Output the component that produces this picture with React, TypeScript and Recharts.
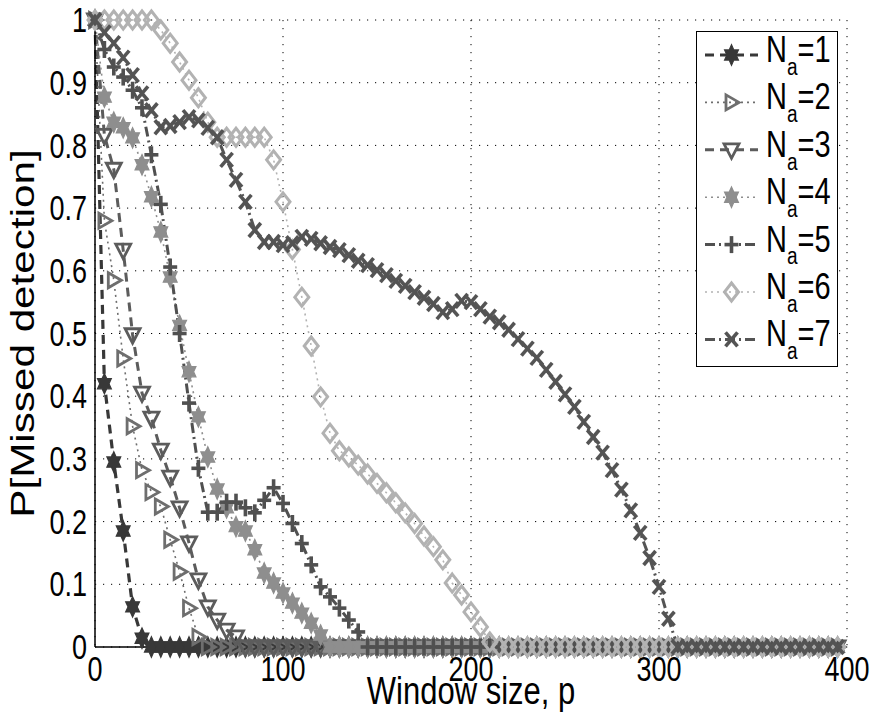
import React from 'react';
import { LineChart, Line, XAxis, YAxis, CartesianGrid, Legend } from 'recharts';

const windowSizes = [
  0, 5, 10, 15, 20, 25, 30, 35, 40, 45, 50, 55, 60, 65, 70, 75, 80, 85, 90, 95,
  100, 105, 110, 115, 120, 125, 130, 135, 140, 145, 150, 155, 160, 165, 170, 175, 180, 185, 190, 195,
  200, 205, 210, 215, 220, 225, 230, 235, 240, 245, 250, 255, 260, 265, 270, 275, 280, 285, 290, 295,
  300, 305, 310, 315, 320, 325, 330, 335, 340, 345, 350, 355, 360, 365, 370, 375, 380, 385, 390, 395,
];

const na1 = [
  1, 0.42, 0.295, 0.185, 0.064, 0.014,
  0, 0, 0, 0, 0, 0, 0, 0, 0, 0,
  0, 0, 0, 0, 0, 0, 0, 0, 0, 0,
  0, 0, 0, 0, 0, 0, 0, 0, 0, 0,
  0, 0, 0, 0, 0, 0, 0, 0, 0, 0,
  0, 0, 0, 0, 0, 0, 0, 0, 0, 0,
  0, 0, 0, 0, 0, 0, 0, 0, 0, 0,
  0, 0, 0, 0, 0, 0, 0, 0, 0, 0,
  0, 0, 0, 0,
];

const na2 = [
  1, 0.68, 0.585, 0.46, 0.352, 0.282, 0.247, 0.224, 0.171, 0.12, 0.062, 0.016,
  0, 0, 0, 0, 0, 0, 0, 0, 0, 0,
  0, 0, 0, 0, 0, 0, 0, 0, 0, 0,
  0, 0, 0, 0, 0, 0, 0, 0, 0, 0,
  0, 0, 0, 0, 0, 0, 0, 0, 0, 0,
  0, 0, 0, 0, 0, 0, 0, 0, 0, 0,
  0, 0, 0, 0, 0, 0, 0, 0, 0, 0,
  0, 0, 0, 0, 0, 0, 0, 0,
];

const na3 = [
  1, 0.816, 0.762, 0.633, 0.498, 0.405, 0.365, 0.314, 0.271, 0.222, 0.166, 0.107, 0.064, 0.043, 0.027, 0.016,
  0, 0, 0, 0, 0, 0, 0, 0, 0, 0,
  0, 0, 0, 0, 0, 0, 0, 0, 0, 0,
  0, 0, 0, 0, 0, 0, 0, 0, 0, 0,
  0, 0, 0, 0, 0, 0, 0, 0, 0, 0,
  0, 0, 0, 0, 0, 0, 0, 0, 0, 0,
  0, 0, 0, 0, 0, 0, 0, 0, 0, 0,
  0, 0, 0, 0,
];

const na4 = [
  1, 0.877, 0.837, 0.828, 0.812, 0.769, 0.718, 0.662, 0.59, 0.513,
  0.439, 0.367, 0.303, 0.252, 0.222, 0.192, 0.185, 0.155, 0.118, 0.102,
  0.086, 0.07, 0.054, 0.038, 0.019,
  0, 0, 0, 0, 0, 0, 0, 0, 0, 0,
  0, 0, 0, 0, 0, 0, 0, 0, 0, 0,
  0, 0, 0, 0, 0, 0, 0, 0, 0, 0,
  0, 0, 0, 0, 0, 0, 0, 0, 0, 0,
  0, 0, 0, 0, 0, 0, 0, 0, 0, 0,
  0, 0, 0, 0, 0,
];

const na5 = [
  1, 0.953, 0.925, 0.909, 0.888, 0.86, 0.785, 0.706, 0.606, 0.5,
  0.389, 0.285, 0.215, 0.215, 0.231, 0.231, 0.222, 0.214, 0.234, 0.254,
  0.229, 0.197, 0.165, 0.131, 0.096, 0.08, 0.062, 0.043, 0.024,
  0, 0, 0, 0, 0, 0, 0, 0, 0, 0,
  0, 0, 0, 0, 0, 0, 0, 0, 0, 0,
  0, 0, 0, 0, 0, 0, 0, 0, 0, 0,
  0, 0, 0, 0, 0, 0, 0, 0, 0, 0,
  0, 0, 0, 0, 0, 0, 0, 0, 0, 0,
  0,
];

const na6 = [
  1, 1, 1, 1, 1, 1, 1, 0.984, 0.963, 0.933,
  0.904, 0.876, 0.837, 0.813, 0.813, 0.813, 0.813, 0.813, 0.813, 0.777,
  0.71, 0.634, 0.558, 0.48, 0.399, 0.341, 0.313, 0.303, 0.29, 0.276,
  0.261, 0.246, 0.23, 0.214, 0.197, 0.177, 0.16, 0.139, 0.102, 0.083,
  0.056, 0.032, 0.008,
  0, 0, 0, 0, 0, 0, 0, 0, 0, 0,
  0, 0, 0, 0, 0, 0, 0, 0, 0, 0,
  0, 0, 0, 0, 0, 0, 0, 0, 0, 0,
  0, 0, 0, 0, 0, 0, 0,
];

const na7 = [
  1, 0.98, 0.963, 0.94, 0.912, 0.883, 0.856, 0.829, 0.831, 0.837,
  0.845, 0.84, 0.828, 0.813, 0.777, 0.745, 0.71, 0.665, 0.646, 0.646,
  0.641, 0.644, 0.654, 0.651, 0.644, 0.638, 0.633, 0.625, 0.616, 0.609,
  0.601, 0.593, 0.584, 0.576, 0.566, 0.557, 0.547, 0.534, 0.539, 0.552,
  0.55, 0.539, 0.527, 0.518, 0.506, 0.491, 0.476, 0.461, 0.442, 0.423,
  0.403, 0.383, 0.359, 0.335, 0.31, 0.282, 0.251, 0.218, 0.182, 0.142,
  0.096, 0.045,
  0, 0, 0, 0, 0, 0, 0, 0, 0, 0,
  0, 0, 0, 0, 0, 0, 0, 0,
];

const seriesLabels = ['1', '2', '3', '4', '5', '6', '7'];
const xTicks = [0, 100, 200, 300, 400];
const yTicks = [0, 0.1, 0.2, 0.3, 0.4, 0.5, 0.6, 0.7, 0.8, 0.9, 1];
const xAxisTitle = 'Window size, p';
const yAxisTitle = 'P[Missed detection]';

const seriesValues = [na1, na2, na3, na4, na5, na6, na7];

const data = windowSizes.map((p, i) => {
  const row: Record<string, number> = { p };
  seriesValues.forEach((arr, k) => {
    row[`na${k + 1}`] = arr[i];
  });
  return row;
});

type Shape = 'hexagram' | 'triRight' | 'triDown' | 'plus' | 'diamond' | 'cross';

const seriesStyles: { key: string; color: string; dash: string; width: number; shape: Shape }[] = [
  { key: 'na1', color: '#383838', dash: '9 6', width: 3.2, shape: 'hexagram' },
  { key: 'na2', color: '#6e6e6e', dash: '2 4', width: 1.6, shape: 'triRight' },
  { key: 'na3', color: '#5c5c5c', dash: '9 6', width: 3, shape: 'triDown' },
  { key: 'na4', color: '#8e8e8e', dash: '2 4', width: 1.6, shape: 'hexagram' },
  { key: 'na5', color: '#505050', dash: '10 4 2 4', width: 3, shape: 'plus' },
  { key: 'na6', color: '#b2b2b2', dash: '2 4', width: 1.6, shape: 'diamond' },
  { key: 'na7', color: '#545454', dash: '10 4 2 4', width: 3, shape: 'cross' },
];

const SY = 1.28;
const FONT = '"Liberation Sans", Arial, Helvetica, sans-serif';

function hexPoints(cx: number, cy: number, R: number) {
  const r = R / Math.sqrt(3);
  const pts: string[] = [];
  for (let k = 0; k < 12; k++) {
    const ang = (-90 + k * 30) * (Math.PI / 180);
    const rad = k % 2 === 0 ? R : r;
    pts.push(`${cx + rad * Math.cos(ang)},${cy + rad * Math.sin(ang) * SY}`);
  }
  return pts.join(' ');
}

function Marker({ cx, cy, shape, color }: { cx: number; cy: number; shape: Shape; color: string }) {
  if (cx == null || cy == null || isNaN(cx) || isNaN(cy)) return <g />;
  switch (shape) {
    case 'hexagram':
      return <polygon points={hexPoints(cx, cy, 8)} fill={color} stroke={color} strokeWidth={1.2} />;
    case 'triRight':
      return (
        <polygon
          points={`${cx - 5.5},${cy - 7.5} ${cx + 7.5},${cy} ${cx - 5.5},${cy + 7.5}`}
          fill="none"
          stroke={color}
          strokeWidth={2.8}
          strokeLinejoin="miter"
        />
      );
    case 'triDown':
      return (
        <polygon
          points={`${cx - 7.5},${cy - 6} ${cx + 7.5},${cy - 6} ${cx},${cy + 8.5}`}
          fill="none"
          stroke={color}
          strokeWidth={2.8}
        />
      );
    case 'plus':
      return (
        <g stroke={color} strokeWidth={3.6}>
          <line x1={cx - 7} y1={cy} x2={cx + 7} y2={cy} />
          <line x1={cx} y1={cy - 8.5} x2={cx} y2={cy + 8.5} />
        </g>
      );
    case 'diamond':
      return (
        <polygon
          points={`${cx},${cy - 9} ${cx + 7},${cy} ${cx},${cy + 9} ${cx - 7},${cy}`}
          fill="none"
          stroke={color}
          strokeWidth={3}
        />
      );
    case 'cross':
      return (
        <g stroke={color} strokeWidth={3.6}>
          <line x1={cx - 6} y1={cy - 7} x2={cx + 6} y2={cy + 7} />
          <line x1={cx - 6} y1={cy + 7} x2={cx + 6} y2={cy - 7} />
        </g>
      );
  }
  return <g />;
}

const YTick = (props: any) => {
  const { x, y, payload } = props;
  return (
    <g transform={`translate(${x},${y}) scale(1,${SY})`}>
      <text x={0} y={0} dy={9.5} textAnchor="end" fontSize={27} fontFamily={FONT} fill="#000">
        {payload.value}
      </text>
    </g>
  );
};

const XTick = (props: any) => {
  const { x, y, payload } = props;
  return (
    <g transform={`translate(${x},${y}) scale(1,${SY})`}>
      <text x={0} y={0} dy={20.5} textAnchor="middle" fontSize={27} fontFamily={FONT} fill="#000">
        {payload.value}
      </text>
    </g>
  );
};

const XTitle = (props: any) => {
  const vb = props.viewBox || { x: 95, y: 647, width: 752, height: 72 };
  return (
    <g transform={`translate(${vb.x + vb.width / 2},${vb.y + 57}) scale(1,${SY})`}>
      <text x={0} y={0} textAnchor="middle" fontSize={31} fontFamily={FONT} fill="#000">
        {xAxisTitle}
      </text>
    </g>
  );
};

const YTitle = (props: any) => {
  const vb = props.viewBox || { x: 0, y: 20, width: 95, height: 627 };
  return (
    <g transform={`translate(${vb.x + 22},${vb.y + vb.height / 2}) rotate(-90) scale(${SY},1)`}>
      <text x={0} y={0} dy={11.8} textAnchor="middle" fontSize={33} fontFamily={FONT} fill="#000">
        {yAxisTitle}
      </text>
    </g>
  );
};

const LegendBox = () => (
  <div
    style={{
      width: 142,
      height: 336,
      border: '1.5px solid #000',
      background: '#fff',
      boxSizing: 'border-box',
    }}
  >
    <svg width={139} height={333} style={{ display: 'block', overflow: 'visible' }}>
      {seriesStyles.map((s, i) => {
        const y = 23 + 47.4 * i;
        return (
          <g key={s.key}>
            <line x1={8} x2={61} y1={y} y2={y} stroke={s.color} strokeWidth={s.width} strokeDasharray={s.dash} />
            <Marker cx={34.5} cy={y} shape={s.shape} color={s.color} />
            <g transform={`translate(69,${y + 7}) scale(1,${SY})`}>
              <text x={0} y={0} fontSize={29} fontFamily={FONT} fill="#000">
                N
                <tspan fontSize={19} dy={10}>a</tspan>
                <tspan fontSize={29} dy={-10}>{`=${seriesLabels[i]}`}</tspan>
              </text>
            </g>
          </g>
        );
      })}
    </svg>
  </div>
);

export default function App() {
  return (
    <div style={{ position: 'absolute', left: 0, top: 0, width: 876, height: 719, background: '#fff' }}>
      <LineChart width={876} height={719} data={data} margin={{ top: 20, right: 29, bottom: 0, left: 0 }}>
        <CartesianGrid stroke="#000" strokeDasharray="1.2 6.8" strokeWidth={1} />
        <XAxis
          dataKey="p"
          type="number"
          domain={[0, 400]}
          ticks={xTicks}
          interval={0}
          height={72}
          axisLine={{ stroke: '#000', strokeWidth: 1.5 }}
          tickLine={false}
          tick={<XTick />}
          label={{ content: (p: any) => <XTitle {...p} /> }}
        />
        <YAxis
          type="number"
          domain={[0, 1]}
          ticks={yTicks}
          interval={0}
          width={95}
          axisLine={{ stroke: '#000', strokeWidth: 1.5 }}
          tickLine={false}
          tick={<YTick />}
          label={{ content: (p: any) => <YTitle {...p} /> }}
        />
        {seriesStyles.map((s) => (
          <Line
            key={s.key}
            dataKey={s.key}
            type="linear"
            stroke={s.color}
            strokeWidth={s.width}
            strokeDasharray={s.dash}
            isAnimationActive={false}
            activeDot={false}
            dot={(p: any) => (
              <Marker key={`${s.key}-${p.index}`} cx={p.cx} cy={p.cy} shape={s.shape} color={s.color} />
            )}
          />
        ))}
        <Legend
          layout="vertical"
          align="center"
          verticalAlign="middle"
          content={() => <LegendBox />}
          wrapperStyle={{ left: 696, top: 31, width: 142, height: 336 }}
        />
      </LineChart>
    </div>
  );
}
